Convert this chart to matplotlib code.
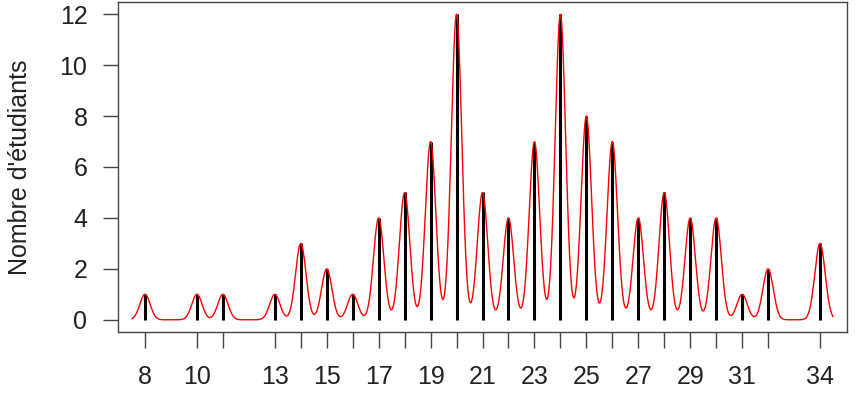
import numpy as np
import matplotlib.pyplot as plt

plt.rcParams['font.family'] = ['Liberation Sans', 'DejaVu Sans']

# Notes (ages) and number of students
notes = [8, 10, 11, 13, 14, 15, 16, 17, 18, 19, 20, 21, 22, 23, 24, 25, 26, 27, 28, 29, 30, 31, 32, 34]
effectifs = [1, 1, 1, 1, 3, 2, 1, 4, 5, 7, 12, 5, 4, 7, 12, 8, 7, 4, 5, 4, 4, 1, 2, 3]
xlabels_shown = [8, 10, 13, 15, 17, 19, 21, 23, 25, 27, 29, 31, 34]

fig = plt.figure(figsize=(8.57, 3.95), dpi=100)
ax = fig.add_axes([118 / 857, 63 / 395, 729 / 857, 330 / 395])

# smooth red curve: sum of narrow bumps around each bar
sigma = 0.2
xs = np.linspace(notes[0] - 0.5, notes[-1] + 0.5, 2000)
ys = np.zeros_like(xs)
for n, e in zip(notes, effectifs):
    ys += e * np.exp(-(xs - n) ** 2 / (2 * sigma ** 2))

ax.vlines(notes, 0, effectifs, color='black', linewidth=2.2)
ax.plot(xs, ys, color='red', linewidth=1)

ax.set_xlim(6.96, 35.04)
ax.set_ylim(-0.48, 12.48)

ax.set_yticks(range(0, 13, 2))
ax.set_xticks(notes)
ax.set_xticklabels([str(n) if n in xlabels_shown else '' for n in notes])

for s in ax.spines.values():
    s.set_color('#444444')
    s.set_linewidth(1)
ax.tick_params(axis='both', width=1, color='#444444',
               labelsize=18, labelcolor='#222222')
ax.tick_params(axis='x', length=11.5, pad=12)
ax.tick_params(axis='y', length=11, pad=11)
ax.set_ylabel("Nombre d'étudiants", fontsize=18, color='#222222', labelpad=20)

fig.savefig('out.png', dpi=100)
